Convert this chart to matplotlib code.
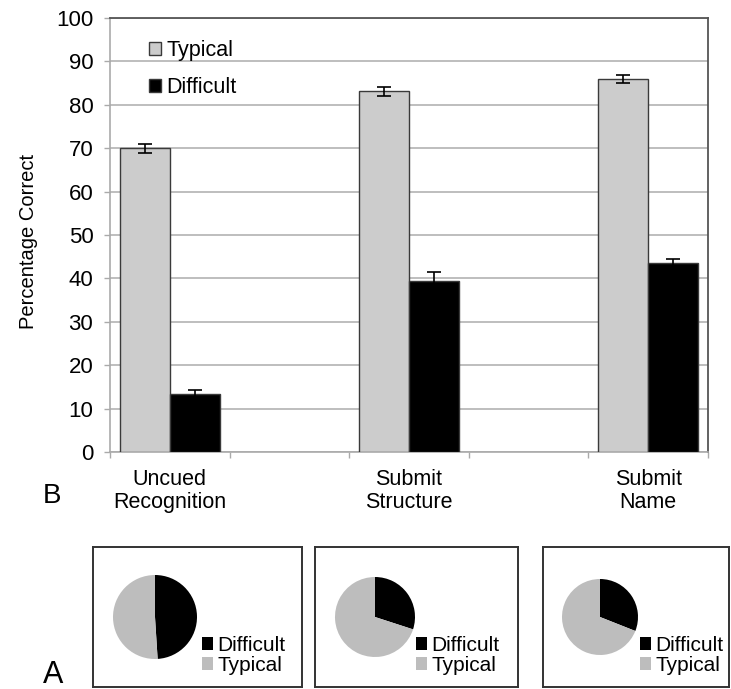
import numpy as np
import matplotlib.pyplot as plt

plt.rcParams['font.family'] = ['Liberation Sans', 'DejaVu Sans']

# 正确率 (%) 及误差
conditions = ['Uncued\nRecognition', 'Submit\nStructure', 'Submit\nName']
typical = [70.0, 83.1, 86.0]
difficult = [13.3, 39.4, 43.5]
typical_err = [1.0, 1.0, 0.9]
difficult_err = [1.0, 2.1, 1.0]

# 各条件下题目构成
pie_labels = ['Difficult', 'Typical']
pie_shares = [[49, 51], [30, 70], [31, 69]]

W, H = 731, 689
fig = plt.figure(figsize=(W / 100, H / 100), dpi=100)


def px(l, t, r, b):
    # 像素框 -> figure 坐标
    return [l / W, 1 - b / H, (r - l) / W, (b - t) / H]


##### 柱状图 (B)

ax = fig.add_axes(px(110, 18, 708, 452))
pos = np.arange(len(conditions)) * 2
w = 0.418
ekw = dict(elinewidth=1.2, capthick=1.2, ecolor='black')
ax.bar(pos - w / 2, typical, w, color='#cccccc', edgecolor='#3a3a3a', linewidth=1,
       yerr=typical_err, capsize=5, error_kw=ekw, label='Typical', zorder=3)
ax.bar(pos + w / 2, difficult, w, color='black', edgecolor='#3a3a3a', linewidth=1,
       yerr=difficult_err, capsize=5, error_kw=ekw, label='Difficult', zorder=3)

ax.set_xlim(-0.5, 4.5)
ax.set_ylim(0, 100)
ax.set_yticks(np.arange(0, 101, 10))
ax.yaxis.grid(True, color='#b3b3b3', linewidth=1.2, zorder=0)
ax.set_axisbelow(True)

ax.set_xticks(np.arange(-0.5, 5, 1))
ax.set_xticklabels([])
ax.set_xticks(pos, minor=True)
ax.set_xticklabels(conditions, minor=True, fontsize=15.5, linespacing=1.15)
ax.tick_params(axis='x', which='major', direction='out', length=4, width=1, color='#aaaaaa')
ax.tick_params(axis='x', which='minor', length=0, pad=12)
ax.tick_params(axis='y', direction='out', length=4, width=1, color='#aaaaaa', labelsize=16, pad=8)

for s in ['left', 'bottom']:
    ax.spines[s].set_color('#aaaaaa')
    ax.spines[s].set_linewidth(1.2)
for s in ['top', 'right']:
    ax.spines[s].set_color('#555555')
    ax.spines[s].set_linewidth(1.3)

ax.set_ylabel('Percentage Correct', fontsize=14.5)
ax.yaxis.set_label_coords(-0.12, 0.485)

ax.legend(loc='upper left', bbox_to_anchor=((149 - 110) / 598, (452 - 40) / 434),
          frameon=False, fontsize=15.5, borderpad=0, borderaxespad=0,
          handlelength=0.55, handleheight=0.55, handletextpad=0.25, labelspacing=0.75)

fig.text(43 / W, 1 - 503 / H, 'B', fontsize=20, va='baseline', ha='left')

##### 饼图 (A)

boxes = [(93, 547, 302, 687), (315, 547, 518, 687), (543, 547, 729, 687)]
pies = [(155, 617, 42), (375, 617, 40), (600, 617, 38)]
leg_xy = [(202, 636), (416, 636), (640, 636)]
pie_colors = ['black', '#bdbdbd']

for box, (cx, cy, r), (lx, ly), shares in zip(boxes, pies, leg_xy, pie_shares):
    bx = fig.add_axes(px(*box))
    bx.set_xticks([])
    bx.set_yticks([])
    bx.patch.set_alpha(0)
    for s in bx.spines.values():
        s.set_color('#333333')
        s.set_linewidth(1.4)

    pa = fig.add_axes(px(cx - r, cy - r, cx + r, cy + r))
    wedges, _ = pa.pie(shares, colors=pie_colors, startangle=90, counterclock=False, radius=1)
    pa.set_xlim(-1, 1)
    pa.set_ylim(-1, 1)
    pa.axis('off')
    pa.legend(wedges, pie_labels, loc='upper left', bbox_to_anchor=(lx / W, 1 - ly / H),
              bbox_transform=fig.transFigure, frameon=False, fontsize=15, borderpad=0,
              borderaxespad=0, handlelength=0.55, handleheight=0.55, handletextpad=0.2,
              labelspacing=0.05)

fig.text(43 / W, 1 - 683 / H, 'A', fontsize=22, va='baseline', ha='left')

plt.savefig('out.png', dpi=100)
